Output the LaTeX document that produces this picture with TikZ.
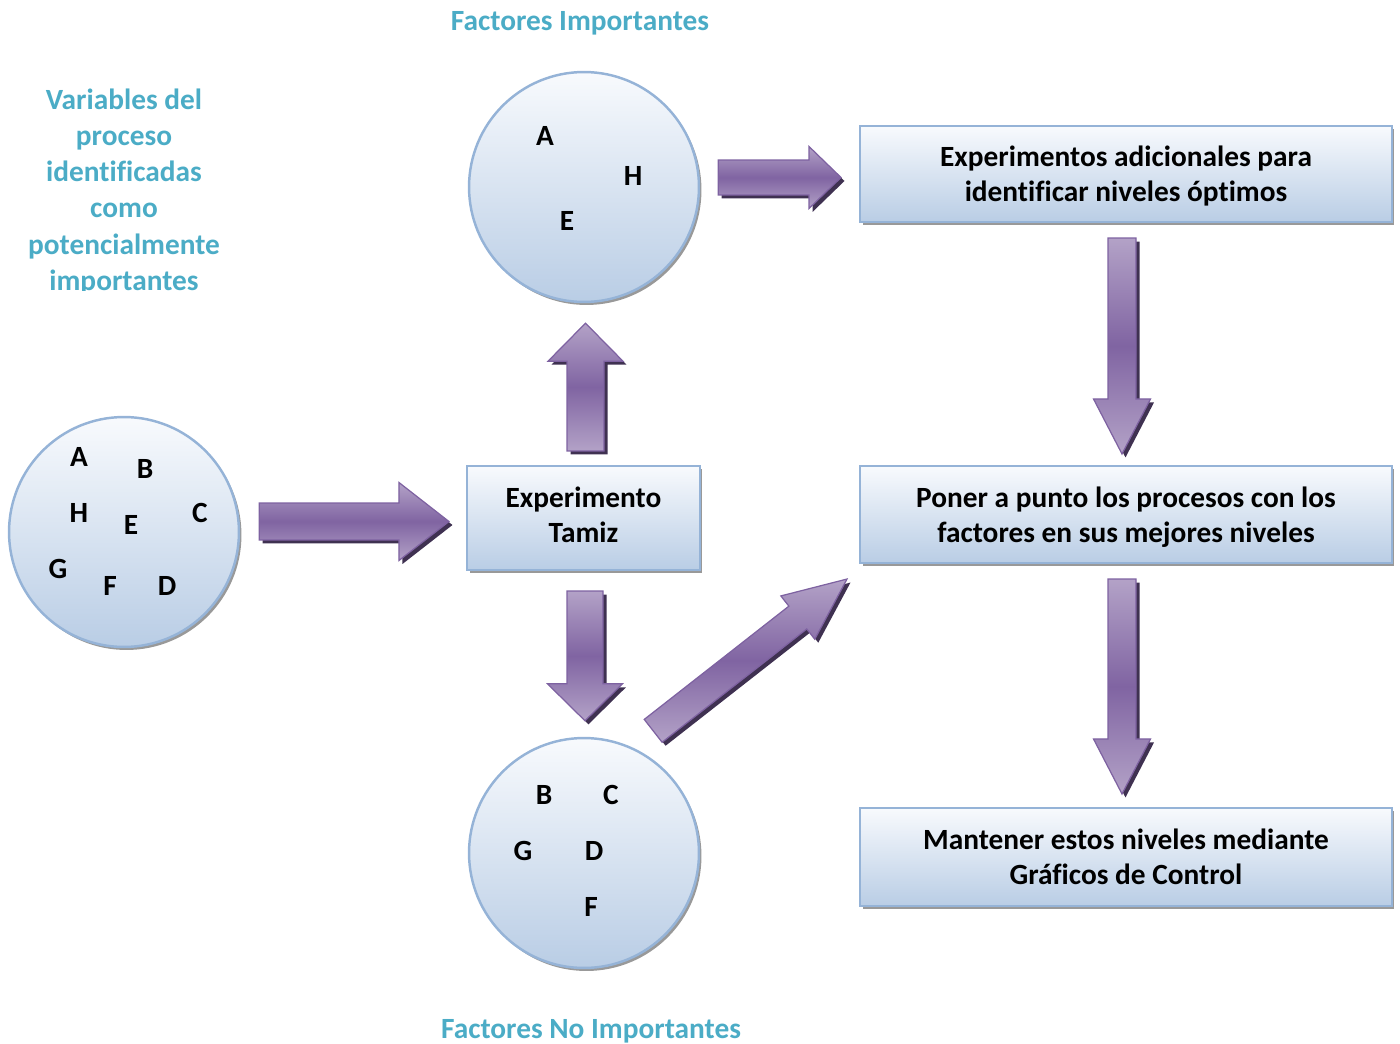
\documentclass[tikz,border=0pt]{standalone}
\usepackage{fontspec}
\setmainfont{Carlito}[Ligatures=NoCommon]
\usetikzlibrary{calc,shadows}

\definecolor{tealtexto}{HTML}{4BACC6}
\definecolor{azulborde}{HTML}{95B3D7}
\definecolor{azulclaro}{HTML}{F8FAFD}
\definecolor{azulfondo}{HTML}{B9CDE5}
\definecolor{lilaclaro}{HTML}{B3A2C7}
\definecolor{lilaoscuro}{HTML}{8064A2}
\definecolor{lilaborde}{HTML}{7E62A1}
\definecolor{lilasombra}{HTML}{3F3151}

\newcommand{\flecha}[5]{%
  \coordinate (hb) at ($(#2)!#5!(#1)$);
  \path[bloque] ($(#1)!#3!90:(#2)$) -- ($(hb)!#3!90:(#2)$) -- ($(hb)!#4!90:(#2)$) -- (#2)
    -- ($(hb)!#4!-90:(#2)$) -- ($(hb)!#3!-90:(#2)$) -- ($(#1)!#3!-90:(#2)$) -- cycle;
}

\begin{document}
\begin{tikzpicture}[x=0.02cm, y=-0.02cm]
        \tikzstyle{circulo}=[circle,draw=azulborde,line width=1.4pt,minimum size=4.6cm,top color=azulclaro,bottom color=azulfondo,drop shadow={shadow xshift=0.05cm,shadow yshift=-0.06cm,fill=black!40,opacity=1}]
        \tikzstyle{caja}=[rectangle,draw=azulborde,line width=1.2pt,top color=azulclaro,bottom color=azulfondo,align=center,text depth=0pt,font=\fontsize{16.7}{19.9}\selectfont\bfseries,drop shadow={shadow xshift=0.05cm,shadow yshift=-0.06cm,fill=black!40,opacity=1}]
        \tikzstyle{letra}=[inner sep=0pt,font=\fontsize{16.7}{18}\selectfont\bfseries]
        \tikzstyle{titulo}=[inner sep=0pt,text=tealtexto,align=center,font=\fontsize{16.7}{20.5}\selectfont\bfseries]
        \tikzstyle{bloque}=[draw=lilaborde,line width=0.7pt,line join=miter,top color=lilaclaro,bottom color=lilaclaro,middle color=lilaoscuro,drop shadow={shadow xshift=0.07cm,shadow yshift=-0.07cm,fill=lilasombra,opacity=1}]

        \useasboundingbox (0,0) rectangle (1400,1044);

        \node (ini)[circulo] at (124,532) {};
        \node (imp)[circulo] at (584,187) {};
        \node (noimp)[circulo] at (584,853) {};

        \node (tamiz)[caja,text depth=0.12cm,minimum width=4.66cm,minimum height=2.08cm] at (583.5,518) {Experimento\\Tamiz};
        \node (exp)[caja,minimum width=10.64cm,minimum height=1.92cm] at (1126,174) {Experimentos adicionales para\\identificar niveles óptimos};
        \node (poner)[caja,minimum width=10.64cm,minimum height=1.94cm] at (1126,514.5) {Poner a punto los procesos con los\\factores en sus mejores niveles};
        \node (mant)[caja,minimum width=10.64cm,minimum height=1.96cm] at (1126,857) {Mantener estos niveles mediante\\Gráficos de Control};

        \foreach \l/\x/\y in {A/79/457, B/145/469, H/79/513, E/131/525, C/200/513, G/58/569, F/110/586, D/167/586}
            \node (ini\l)[letra] at (\x,\y) {\l};
        \foreach \l/\x/\y in {A/545/136, H/633/176, E/567/221}
            \node (imp\l)[letra] at (\x,\y) {\l};
        \foreach \l/\x/\y in {B/544/795, C/611/795, G/523/851, D/594/851, F/591/907}
            \node (noimp\l)[letra] at (\x,\y) {\l};

        \node (timp)[titulo] at (580,23) {Factores Importantes};
        \node (tnoimp)[titulo] at (591,1031) {Factores No Importantes};
        \begin{scope}
            \clip (0,60) rectangle (260,291);
            \node (tvar)[titulo] at (124,192) {Variables del\\proceso\\identificadas\\como\\potencialmente\\importantes};
        \end{scope}

        \coordinate (f1a) at ($(ini.east)+(19,-10.5)$);
        \coordinate (f1b) at ($(tamiz.west)+(-17,3.5)$);
        \coordinate (f2a) at ($(tamiz.north)+(2,-14)$);
        \coordinate (f2b) at ($(imp.south)+(1.5,20)$);
        \coordinate (f3a) at ($(imp.east)+(18,-9.5)$);
        \coordinate (f3b) at ($(exp.west)+(-18,3.5)$);
        \coordinate (f4a) at ($(tamiz.south)+(1.5,20)$);
        \coordinate (f4b) at ($(noimp.north)+(1,-16)$);
        \coordinate (f5a) at ($(noimp.north east)+(-13,-40)$);
        \coordinate (f5b) at ($(poner.south west)+(-12,15)$);
        \coordinate (f6a) at ($(exp.south)+(-4,15)$);
        \coordinate (f6b) at ($(poner.north)+(-4,-11)$);
        \coordinate (f7a) at ($(poner.south)+(-4,15)$);
        \coordinate (f7b) at ($(mant.north)+(-4,-13)$);

        \flecha{f1a}{f1b}{0.37cm}{0.78cm}{1cm}
        \flecha{f2a}{f2b}{0.37cm}{0.75cm}{0.76cm}
        \flecha{f3a}{f3b}{0.35cm}{0.62cm}{0.64cm}
        \flecha{f4a}{f4b}{0.36cm}{0.75cm}{0.74cm}
        \flecha{f5a}{f5b}{0.29cm}{0.55cm}{1.25cm}
        \flecha{f6a}{f6b}{0.28cm}{0.57cm}{1.1cm}
        \flecha{f7a}{f7b}{0.28cm}{0.57cm}{1.1cm}
    \end{tikzpicture}
\end{document}
